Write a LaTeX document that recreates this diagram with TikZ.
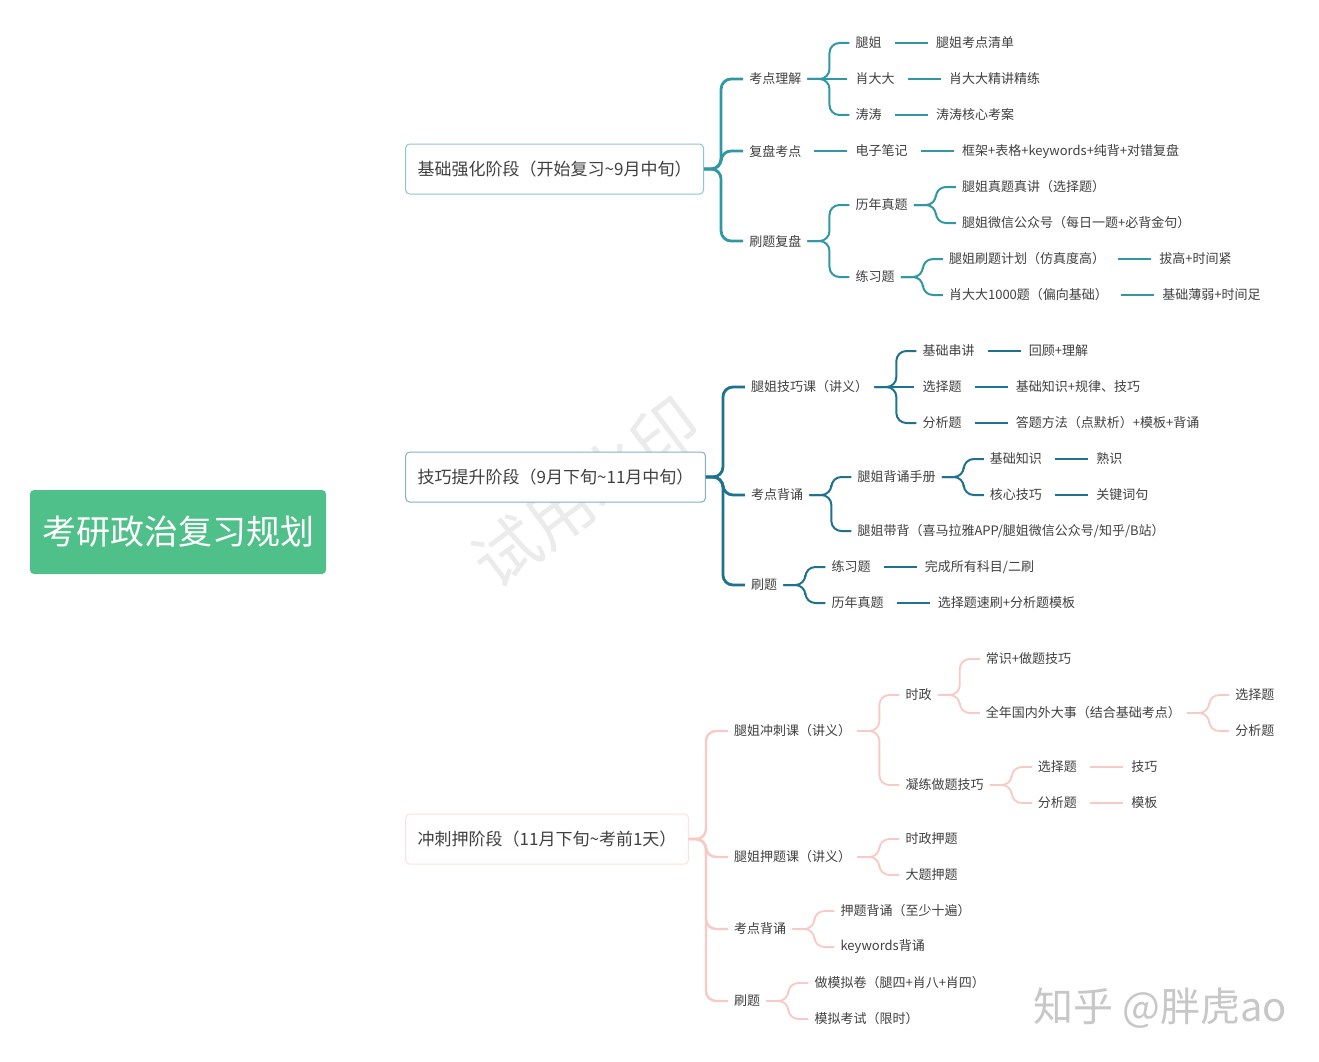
\documentclass[tikz,border=0pt]{standalone}
\usepackage{fontspec}
\setmainfont{Noto Sans CJK SC}
\usetikzlibrary{positioning,calc,backgrounds}
\definecolor{mint}{RGB}{80,192,138}
\definecolor{lagoon}{RGB}{48,152,165}
\definecolor{petrol}{RGB}{30,114,142}
\definecolor{blush}{RGB}{248,202,198}
\definecolor{ink}{RGB}{64,64,64}
\tikzset{
  rootbox/.style={fill=mint,text=white,rounded corners=4pt,minimum width=296pt,
    minimum height=84pt,font=\fontsize{34}{40}\selectfont},
  stage/.style={draw=#1,fill=white,rounded corners=4pt,line width=1pt,minimum height=50pt,
    inner xsep=12pt,font=\fontsize{17}{20}\selectfont,text=ink},
  topic/.style={font=\fontsize{13}{16}\selectfont,text=ink,inner xsep=6pt,inner ysep=3pt},
  fork/.style={draw=#1,line width=2pt,rounded corners=10pt},
  link/.style={draw=#1,line width=2pt,shorten <=7pt,shorten >=2pt},
  mark/.style={font=\fontsize{#1}{#1}\selectfont}
}
\tikzset{wmark/.style={text=black!8,font=\fontsize{66}{66}\selectfont}}
\begin{document}
\begin{tikzpicture}[x=1pt,y=-1pt,node distance=42pt]
  \fill[white] (0,0) rectangle (1319,1062);
  \useasboundingbox (0,0) rectangle (1319,1062);
  \node[wmark,rotate=37] (wm) at (586,492) {试用水印};
  \node[rootbox] (root) at (178,532) {考研政治复习规划};
  \node[stage=lagoon!55,right=79pt of root,yshift=363pt] (s1) {基础强化阶段（开始复习\textasciitilde{}9月中旬）};
  \node[stage=petrol!55,right=79pt of root,yshift=55pt] (s2) {技巧提升阶段（9月下旬\textasciitilde{}11月中旬）};
  \node[stage=blush!55,right=79pt of root,yshift=-307pt] (s3) {冲刺押阶段（11月下旬\textasciitilde{}考前1天）};
  % stage 1
  \node[topic,right=39pt of s1,yshift=90pt] (k1) {考点理解};
  \node[topic,right=39pt of s1,yshift=18pt] (k2) {复盘考点};
  \node[topic,right=39pt of s1,yshift=-72pt] (k3) {刷题复盘};
  \node[topic,right=of k1,yshift=36pt] (k11) {腿姐};
  \node[topic,right=of k1] (k12) {肖大大};
  \node[topic,right=of k1,yshift=-36pt] (k13) {涛涛};
  \node[topic,right=of k11] (k111) {腿姐考点清单};
  \node[topic,right=of k12] (k121) {肖大大精讲精练};
  \node[topic,right=of k13] (k131) {涛涛核心考案};
  \node[topic,right=of k2] (k21) {电子笔记};
  \node[topic,right=of k21] (k211) {框架+表格+keywords+纯背+对错复盘};
  \node[topic,right=of k3,yshift=36pt] (k31) {历年真题};
  \node[topic,right=of k3,yshift=-36pt] (k32) {练习题};
  \node[topic,right=of k31,yshift=18pt] (k311) {腿姐真题真讲（选择题）};
  \node[topic,right=of k31,yshift=-18pt] (k312) {腿姐微信公众号（每日一题+必背金句）};
  \node[topic,right=of k32,yshift=18pt] (k321) {腿姐刷题计划（仿真度高）};
  \node[topic,right=of k32,yshift=-18pt] (k322) {肖大大1000题（偏向基础）};
  \node[topic,right=of k321] (k3211) {拔高+时间紧};
  \node[topic,right=of k322] (k3221) {基础薄弱+时间足};
  % stage 2
  \node[topic,right=39pt of s2,yshift=90pt] (j1) {腿姐技巧课（讲义）};
  \node[topic,right=39pt of s2,yshift=-18pt] (j2) {考点背诵};
  \node[topic,right=39pt of s2,yshift=-108pt] (j3) {刷题};
  \node[topic,right=of j1,yshift=36pt] (j11) {基础串讲};
  \node[topic,right=of j1] (j12) {选择题};
  \node[topic,right=of j1,yshift=-36pt] (j13) {分析题};
  \node[topic,right=of j11] (j111) {回顾+理解};
  \node[topic,right=of j12] (j121) {基础知识+规律、技巧};
  \node[topic,right=of j13] (j131) {答题方法（点默析）+模板+背诵};
  \node[topic,right=of j2,yshift=18pt] (j21) {腿姐背诵手册};
  \node[topic,right=of j2,yshift=-36pt] (j22) {腿姐带背（喜马拉雅APP/腿姐微信公众号/知乎/B站）};
  \node[topic,right=of j21,yshift=18pt] (j211) {基础知识};
  \node[topic,right=of j21,yshift=-18pt] (j212) {核心技巧};
  \node[topic,right=of j211] (j2111) {熟识};
  \node[topic,right=of j212] (j2121) {关键词句};
  \node[topic,right=of j3,yshift=18pt] (j31) {练习题};
  \node[topic,right=of j3,yshift=-18pt] (j32) {历年真题};
  \node[topic,right=of j31] (j311) {完成所有科目/二刷};
  \node[topic,right=of j32] (j321) {选择题速刷+分析题模板};
  % stage 3
  \node[topic,right=39pt of s3,yshift=108pt] (m1) {腿姐冲刺课（讲义）};
  \node[topic,right=39pt of s3,yshift=-18pt] (m2) {腿姐押题课（讲义）};
  \node[topic,right=39pt of s3,yshift=-90pt] (m3) {考点背诵};
  \node[topic,right=39pt of s3,yshift=-162pt] (m4) {刷题};
  \node[topic,right=of m1,yshift=36pt] (m11) {时政};
  \node[topic,right=of m1,yshift=-54pt] (m12) {凝练做题技巧};
  \node[topic,right=of m11,yshift=36pt] (m111) {常识+做题技巧};
  \node[topic,right=of m11,yshift=-18pt] (m112) {全年国内外大事（结合基础考点）};
  \node[topic,right=of m112,yshift=18pt] (m1121) {选择题};
  \node[topic,right=of m112,yshift=-18pt] (m1122) {分析题};
  \node[topic,right=of m12,yshift=18pt] (m121) {选择题};
  \node[topic,right=of m12,yshift=-18pt] (m122) {分析题};
  \node[topic,right=of m121] (m1211) {技巧};
  \node[topic,right=of m122] (m1221) {模板};
  \node[topic,right=of m2,yshift=18pt] (m21) {时政押题};
  \node[topic,right=of m2,yshift=-18pt] (m22) {大题押题};
  \node[topic,right=of m3,yshift=18pt] (m31) {押题背诵（至少十遍）};
  \node[topic,right=of m3,yshift=-18pt] (m32) {keywords背诵};
  \node[topic,right=of m4,yshift=18pt] (m41) {做模拟卷（腿四+肖八+肖四）};
  \node[topic,right=of m4,yshift=-18pt] (m42) {模拟考试（限时）};
  \node[mark=40,text=black!22,anchor=west] (wm2) at (1030,1008) {知乎 @胖虎ao};
  % main branches
  \begin{scope}[on background layer]
    \fill[lagoon] ($(root.north)+(18,1)$) .. controls +(100,-190) and +(-35,0) .. ($(s1.west)+(0,-1)$)
      -- ($(s1.west)+(0,1)$) .. controls +(-38,0) and +(104,-188) .. ($(root.north)+(38,1)$) -- cycle;
    \fill[petrol] ($(root.north east)+(-10,2)$) .. controls +(40,-12) and +(-30,0) .. ($(s2.west)+(0,-1.2)$)
      -- ($(s2.west)+(0,1.2)$) .. controls +(-30,0) and +(40,-10) .. ($(root.north east)+(-2,9)$) -- cycle;
    \fill[blush] ($(root.south)+(18,-1)$) .. controls +(100,160) and +(-35,0) .. ($(s3.west)+(0,1)$)
      -- ($(s3.west)+(0,-1)$) .. controls +(-38,0) and +(104,158) .. ($(root.south)+(36,-1)$) -- cycle;
  \end{scope}
  \foreach \p/\c in {s1/k1,s1/k2,s1/k3}
    \draw[fork=lagoon,line width=2.8pt] (\p.east) -| ($(\c.west)+(-22,0)$) -- (\c.west);
  \foreach \p/\c in {k1/k11,k1/k13,k3/k31,k3/k32,k31/k311,k31/k312,k32/k321,k32/k322}
    \draw[fork=lagoon] (\p.east) -| ($(\c.west)+(-20,0)$) -- (\c.west);
  \foreach \p/\c in {k1/k12,k11/k111,k12/k121,k13/k131,k2/k21,k21/k211,k321/k3211,k322/k3221}
    \draw[link=lagoon] (\p) -- (\c);
  \foreach \p/\c in {s2/j1,s2/j2,s2/j3}
    \draw[fork=petrol,line width=2.8pt] (\p.east) -| ($(\c.west)+(-22,0)$) -- (\c.west);
  \foreach \p/\c in {j1/j11,j1/j13,j2/j21,j2/j22,j21/j211,j21/j212,j3/j31,j3/j32}
    \draw[fork=petrol] (\p.east) -| ($(\c.west)+(-20,0)$) -- (\c.west);
  \foreach \p/\c in {j1/j12,j11/j111,j12/j121,j13/j131,j211/j2111,j212/j2121,j31/j311,j32/j321}
    \draw[link=petrol] (\p) -- (\c);
  \foreach \p/\c in {s3/m1,s3/m2,s3/m3,s3/m4}
    \draw[fork=blush,line width=2.4pt] (\p.east) -| ($(\c.west)+(-22,0)$) -- (\c.west);
  \foreach \p/\c in {m1/m11,m1/m12,m11/m111,m11/m112,m112/m1121,m112/m1122,m12/m121,m12/m122,m2/m21,m2/m22,m3/m31,m3/m32,m4/m41,m4/m42}
    \draw[fork=blush,line width=1.8pt] (\p.east) -| ($(\c.west)+(-20,0)$) -- (\c.west);
  \foreach \p/\c in {m121/m1211,m122/m1221}
    \draw[link=blush,line width=1.8pt] (\p) -- (\c);
\end{tikzpicture}
\end{document}
